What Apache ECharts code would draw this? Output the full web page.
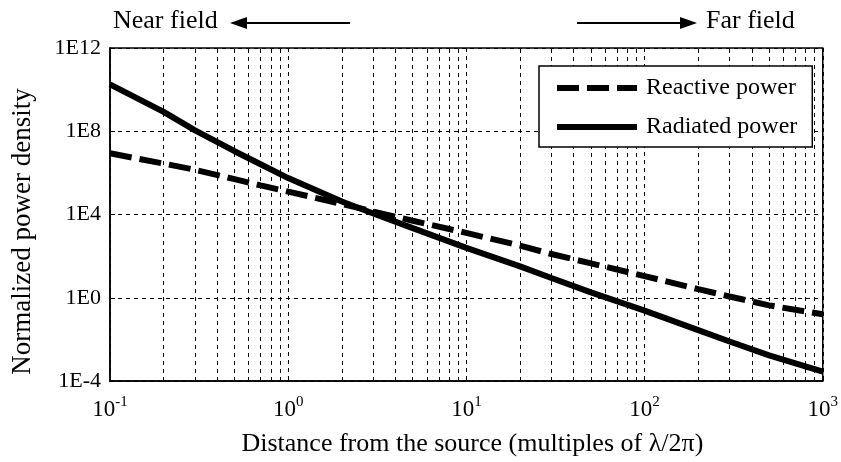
<!DOCTYPE html>
<html>
<head>
<meta charset="utf-8">
<script src="https://cdn.jsdelivr.net/npm/echarts@6/dist/echarts.min.js"></script>
<style>html,body{margin:0;padding:0;background:#fff;}#c{width:841px;height:462px;}</style>
</head>
<body>
<div id="c"></div>
<script>
// ---- data ----
const distance = [0.1, 0.2, 0.3, 0.5, 0.7, 1, 2, 3, 5, 10, 20, 30, 50, 100, 200, 300, 500, 1000];
const reactivePower = [8.7e6, 2.8e6, 1.4e6, 5.0e5, 2.5e5, 1.26e5, 3.2e4, 1.4e4, 5.0e3, 1.3e3, 320, 126, 45, 11, 2.6, 1.15, 0.43, 0.16];
const radiatedPower = [1.8e10, 8.5e8, 1.1e8, 1.1e7, 2.6e6, 5.6e5, 4.2e4, 1.12e4, 2.2e3, 250, 32, 8.9, 1.8, 0.24, 0.028, 0.0079, 0.0017, 0.00028];
const minorGridX = [0.2,0.3,0.4,0.5,0.6,0.7,0.8,0.9, 2,3,4,5,6,7,8,9, 20,30,40,50,60,70,80,90, 200,300,400,500,600,700,800,900];
const seriesNames = ['Reactive power', 'Radiated power'];
const xTitle = 'Distance from the source (multiples of λ/2π)';
const yTitle = 'Normalized power density';
const nearLabel = 'Near field';
const farLabel = 'Far field';

const FONT = "'Liberation Serif', 'Times New Roman', serif";
const chart = echarts.init(document.getElementById('c'), null, {renderer: 'canvas'});

function pairs(xs, ys) { return xs.map((x, i) => [x, ys[i]]); }

const gridDash = {color: '#000', width: 1, type: [4, 4]};

const option = {
  animation: false,
  backgroundColor: '#fff',
  grid: {left: 110, right: 16, top: 48, bottom: 79, show: true, borderColor: '#000', borderWidth: 1.5, backgroundColor: 'transparent'},
  xAxis: {
    type: 'log', logBase: 10, min: 0.1, max: 1000, interval: 1,
    name: xTitle, nameLocation: 'middle', nameGap: 50,
    nameTextStyle: {fontFamily: FONT, fontSize: 26, color: '#000', padding: [0, 0, 0, 12]},
    axisLine: {show: true, lineStyle: {color: '#000', width: 1.5}},
    axisTick: {show: true, inside: true, length: 5, lineStyle: {color: '#000'}},
    splitLine: {show: true, lineStyle: gridDash},
    axisLabel: {
      margin: 14,
      formatter: function (v) {
        const e = Math.round(Math.log10(v));
        return '{b|10}{s|' + e + '}';
      },
      rich: {
        b: {fontFamily: FONT, fontSize: 23, color: '#000', lineHeight: 26, verticalAlign: 'bottom'},
        s: {fontFamily: FONT, fontSize: 15, color: '#000', lineHeight: 26, verticalAlign: 'top'}
      }
    }
  },
  yAxis: {
    type: 'log', logBase: 10, min: 1e-4, max: 1e12, interval: 4,
    name: yTitle, nameLocation: 'middle', nameGap: 74,
    nameTextStyle: {fontFamily: FONT, fontSize: 27, color: '#000', padding: [0, 34, 0, 0]},
    axisLine: {show: true, lineStyle: {color: '#000', width: 1.5}},
    axisTick: {show: true, inside: true, length: 5, lineStyle: {color: '#000'}},
    splitLine: {show: true, lineStyle: gridDash},
    axisLabel: {
      margin: 9, fontFamily: FONT, fontSize: 22, color: '#000',
      formatter: function (v) { return '1E' + Math.round(Math.log10(v)); }
    }
  },
  legend: {
    orient: 'vertical', left: 539, top: 66,
    padding: [9, 15, 7, 15], itemGap: 13,
    itemWidth: 80, itemHeight: 14,
    borderColor: '#000', borderWidth: 1.5, backgroundColor: '#fff',
    itemStyle: {opacity: 0},
    lineStyle: {width: 6},
    textStyle: {fontFamily: FONT, fontSize: 24, color: '#000', lineHeight: 26, padding: [0, 0, 0, 4]},
    data: seriesNames
  },
  series: [
    {
      name: seriesNames[0], type: 'line', symbol: 'none', z: 3,
      data: pairs(distance, reactivePower),
      lineStyle: {color: '#000', width: 6, type: [22, 8]},
      itemStyle: {color: '#000'},
      markLine: {
        silent: true, symbol: 'none', z: 1,
        label: {show: false},
        lineStyle: {color: '#000', width: 1, type: [4, 4]},
        data: minorGridX.map(v => ({xAxis: v}))
      }
    },
    {
      name: seriesNames[1], type: 'line', symbol: 'none', z: 4,
      data: pairs(distance, radiatedPower),
      lineStyle: {color: '#000', width: 6, type: 'solid'},
      itemStyle: {color: '#000'}
    }
  ],
  graphic: [
    {type: 'text', left: 113, top: 8, style: {text: nearLabel, font: '26px ' + FONT, fill: '#000'}},
    {type: 'line', shape: {x1: 244, y1: 23, x2: 350, y2: 23}, style: {stroke: '#000', lineWidth: 2}},
    {type: 'polygon', shape: {points: [[230, 23], [247, 17], [247, 29]]}, style: {fill: '#000'}},
    {type: 'line', shape: {x1: 577, y1: 23, x2: 683, y2: 23}, style: {stroke: '#000', lineWidth: 2}},
    {type: 'polygon', shape: {points: [[697, 23], [680, 17], [680, 29]]}, style: {fill: '#000'}},
    {type: 'text', left: 706, top: 8, style: {text: farLabel, font: '26px ' + FONT, fill: '#000'}}
  ]
};
chart.setOption(option);
</script>
</body>
</html>
